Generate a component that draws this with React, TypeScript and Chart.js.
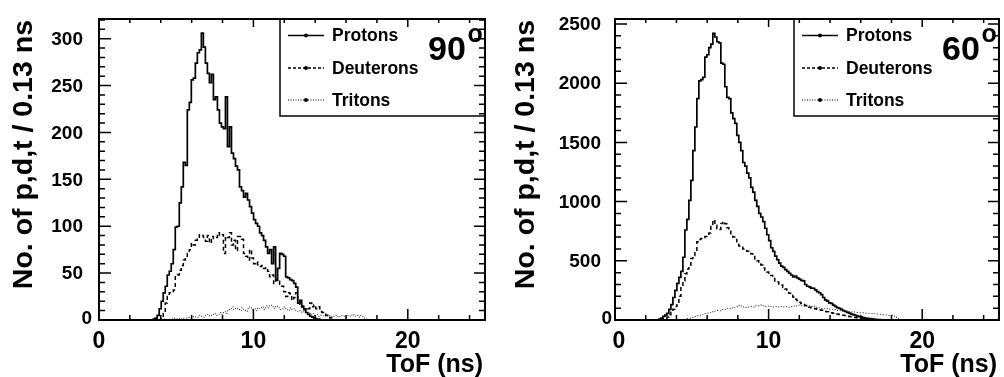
import React, { useEffect, useRef } from "react";
import { Chart, registerables } from "chart.js";

Chart.register(...registerables);

// ---------- data ----------
const BIN_WIDTH = 0.13; // ns per bin
const X_MIN = 0;
const X_MAX = 25;
const X_LABELS = [0, 10, 20];
const LEGEND_LABELS = ["Protons", "Deuterons", "Tritons"];
const ANGLES = ["90", "60"];

const Y_LABELS_90 = [0, 50, 100, 150, 200, 250, 300];
const Y_LABELS_60 = [0, 500, 1000, 1500, 2000, 2500];
const Y_MAX_90 = 321;
const Y_MAX_60 = 2542;

// 90 degrees: counts per 0.13 ns bin, starting at the given bin index
const PROTONS_90_START = 27;
const PROTONS_90 = [
  1, 2, 5, 12, 20, 29, 36, 48, 52, 60, 75, 99, 100, 125, 142, 168, 165, 224, 232, 256,
  258, 274, 285, 288, 306, 291, 274, 263, 253, 262, 235, 238, 224, 210, 206, 204, 238, 185, 206, 178,
  172, 164, 160, 142, 138, 131, 135, 128, 121, 114, 107, 103, 100, 93, 90, 85, 78, 71, 75, 60,
  78, 43, 55, 71, 70, 68, 46, 45, 43, 42, 39, 35, 18, 21, 14, 12, 8, 6, 4, 3,
  2, 1, 1,
];
const DEUTERONS_90_START = 31;
const DEUTERONS_90 = [
  3, 7, 18, 25, 29, 30, 32, 46, 48, 53, 58, 64, 68, 71, 75, 82, 80, 85, 86, 91,
  90, 88, 84, 90, 82, 89, 87, 88, 93, 90, 91, 71, 89, 88, 93, 80, 85, 74, 89, 89,
  86, 71, 68, 64, 75, 66, 60, 62, 59, 57, 58, 55, 56, 52, 46, 48, 39, 42, 43, 38,
  36, 30, 25, 29, 28, 21, 24, 29, 20, 14, 15, 11, 13, 12, 18, 14, 16, 12, 14, 9,
  8, 6, 5, 3, 2, 1,
];
const TRITONS_90_START = 30;
const TRITONS_90 = [
  1, 0, 1, 1, 0, 1, 1, 2, 1, 1, 2, 1, 2, 2, 3, 2, 3, 4, 3, 3,
  5, 4, 3, 5, 6, 4, 5, 7, 5, 6, 8, 6, 9, 7, 10, 12, 14, 11, 13, 12,
  10, 13, 11, 9, 12, 14, 11, 12, 10, 13, 12, 14, 11, 15, 13, 16, 14, 12, 15, 13,
  11, 12, 14, 12, 10, 13, 11, 12, 10, 9, 10, 8, 9, 7, 8, 6, 7, 5, 6, 4,
  5, 5, 4, 3, 5, 4, 3, 4, 5, 3, 4, 5, 4, 3, 5, 4, 6, 4, 5, 3,
  5, 4, 2, 1,
];

// 60 degrees
const PROTONS_60_START = 22;
const PROTONS_60 = [
  8, 15, 30, 42, 56, 90, 130, 190, 250, 310, 360, 410, 530, 760, 850, 1010, 1180, 1430, 1630, 1870,
  2020, 2030, 2050, 2220, 2240, 2300, 2330, 2420, 2390, 2350, 2340, 2170, 2160, 1970, 1880, 1870, 1750, 1700, 1660, 1560,
  1500, 1430, 1330, 1300, 1240, 1200, 1120, 1080, 1010, 960, 900, 870, 830, 775, 720, 670, 610, 580, 540, 510,
  480, 455, 445, 425, 410, 395, 380, 365, 370, 355, 345, 335, 330, 300, 285, 280, 270, 268, 255, 240,
  230, 215, 190, 170, 160, 145, 140, 125, 115, 105, 98, 90, 80, 72, 65, 58, 50, 45, 40, 33,
  28, 25, 20, 16, 13, 11, 9, 7, 5, 4, 3, 2, 1,
];
const DEUTERONS_60_START = 24;
const DEUTERONS_60 = [
  8, 14, 25, 45, 65, 90, 113, 150, 200, 280, 330, 390, 430, 455, 520, 545, 590, 660, 680, 688,
  695, 705, 715, 735, 790, 845, 800, 770, 765, 815, 830, 812, 780, 755, 720, 700, 680, 660, 625, 615,
  600, 595, 580, 575, 560, 545, 515, 500, 475, 465, 440, 420, 405, 390, 375, 350, 330, 320, 305, 295,
  275, 262, 245, 225, 210, 195, 175, 165, 150, 140, 130, 122, 115, 108, 104, 100, 95, 90, 86, 82,
  78, 72, 70, 65, 62, 58, 55, 50, 46, 43, 40, 37, 33, 30, 28, 25, 22, 19, 16, 14,
  12, 10, 8, 6, 5, 4, 3, 2, 1,
];
const TRITONS_60_START = 33;
const TRITONS_60 = [
  2, 5, 8, 12, 16, 20, 26, 30, 35, 40, 45, 48, 55, 58, 62, 70, 68, 75, 80, 78,
  86, 90, 88, 98, 95, 102, 100, 108, 112, 125, 118, 110, 105, 108, 112, 115, 110, 120, 118, 125,
  128, 120, 115, 118, 112, 115, 110, 113, 108, 112, 115, 110, 114, 112, 108, 113, 118, 115, 122, 126,
  120, 117, 119, 115, 120, 114, 118, 110, 106, 102, 98, 100, 96, 99, 92, 90, 86, 88, 82, 80,
  78, 76, 74, 72, 70, 68, 70, 66, 64, 62, 60, 61, 58, 57, 56, 55, 56, 52, 50, 48,
  46, 44, 43, 42, 40, 41, 38, 30, 15,
];

// ---------- helpers ----------
type Pt = { x: number; y: number };
function histPoints(start: number, counts: number[]): Pt[] {
  const pts: Pt[] = [{ x: (start - 1) * BIN_WIDTH, y: 0 }];
  counts.forEach((c, i) => pts.push({ x: (start + i) * BIN_WIDTH, y: c }));
  pts.push({ x: (start + counts.length) * BIN_WIDTH, y: 0 });
  return pts;
}

const FONT = '"Liberation Sans", Arial, Helvetica, sans-serif';

type PanelCfg = {
  angle: string;
  yLabels: number[];
  yMax: number;
  yMajor: number;
  padLeft: number;
  padRight: number;
  yLabelGap: number;
  zeroYLabelDx: number;
  zeroXLabelDx: number;
  series: { start: number; counts: number[] }[];
};

const DASHES = [[], [4, 3], [1.2, 2]];
const WIDTHS = [1.7, 1.5, 1];
const LEGEND_DASHES = [[], [3, 2], [1, 1.5]];

function makePlugin(cfg: PanelCfg) {
  return {
    id: "rootFrame" + cfg.angle,
    afterDatasetsDraw(chart: any) {
      const ctx: CanvasRenderingContext2D = chart.ctx;
      const xs = chart.scales.x;
      const ys = chart.scales.y;
      const { left, right, top, bottom } = chart.chartArea;
      ctx.save();
      ctx.strokeStyle = "#000";
      ctx.fillStyle = "#000";
      ctx.setLineDash([]);

      // legend box
      const bx = right - 205;
      ctx.fillStyle = "#fff";
      ctx.fillRect(bx, top, right - bx, 97);
      ctx.fillStyle = "#000";
      ctx.lineWidth = 1.5;
      ctx.strokeRect(bx, top, right - bx, 97);
      const rowY = [top + 16.5, top + 49, top + 81];
      ctx.font = `bold 17.5px ${FONT}`;
      ctx.textAlign = "left";
      ctx.textBaseline = "middle";
      LEGEND_LABELS.forEach((lab, i) => {
        const y = rowY[i];
        ctx.lineWidth = i === 2 ? 1 : 1.4;
        ctx.setLineDash(LEGEND_DASHES[i]);
        ctx.beginPath();
        ctx.moveTo(right - 197, y);
        ctx.lineTo(right - 161, y);
        ctx.stroke();
        ctx.setLineDash([]);
        ctx.beginPath();
        ctx.arc(right - 179, y, 2, 0, Math.PI * 2);
        ctx.fill();
        ctx.fillText(lab, right - 153, y + 1);
      });

      // angle label
      ctx.textBaseline = "alphabetic";
      ctx.font = `bold 34px ${FONT}`;
      ctx.fillText(cfg.angle, right - 57, top + 41);
      ctx.font = `bold 25px ${FONT}`;
      ctx.fillText("o", right - 17.5, top + 23);

      // frame
      ctx.lineWidth = 2;
      ctx.strokeRect(left, top, right - left, bottom - top);

      // x ticks
      ctx.lineWidth = 1.5;
      for (let k = 0; k <= 12; k++) {
        const v = k * 2;
        const x = xs.getPixelForValue(v);
        const major = v % 10 === 0;
        const lb = major ? 11 : 5;
        const lt = major ? 8 : 4;
        ctx.beginPath();
        ctx.moveTo(x, bottom);
        ctx.lineTo(x, bottom - lb);
        ctx.moveTo(x, top);
        ctx.lineTo(x, top + lt);
        ctx.stroke();
      }
      // y ticks
      const minor = cfg.yMajor / 5;
      for (let k = 0; k * minor <= cfg.yMax; k++) {
        const v = k * minor;
        const y = ys.getPixelForValue(v);
        const major = k % 5 === 0;
        const len = major ? 12 : 6;
        const lr = major ? 11 : 6;
        ctx.beginPath();
        ctx.moveTo(left, y);
        ctx.lineTo(left + len, y);
        ctx.moveTo(right, y);
        ctx.lineTo(right - lr, y);
        ctx.stroke();
      }

      // tick labels
      ctx.font = `bold 23px ${FONT}`;
      ctx.textAlign = "center";
      ctx.textBaseline = "alphabetic";
      X_LABELS.forEach((v) => {
        const dx = v === 0 ? cfg.zeroXLabelDx : 0;
        ctx.fillText(String(v), xs.getPixelForValue(v) + dx, bottom + 28);
      });
      ctx.font = `bold 19px ${FONT}`;
      ctx.textAlign = "right";
      ctx.textBaseline = "middle";
      cfg.yLabels.forEach((v) => {
        const y = ys.getPixelForValue(v);
        if (v === 0) {
          ctx.fillText("0", left - cfg.yLabelGap + cfg.zeroYLabelDx, y - 1);
        } else {
          ctx.fillText(String(v), left - cfg.yLabelGap, y + 1);
        }
      });

      // axis titles
      ctx.font = `bold 25px ${FONT}`;
      ctx.textAlign = "right";
      ctx.textBaseline = "alphabetic";
      ctx.fillText("ToF (ns)", right - 2, bottom + 52);

      ctx.save();
      ctx.translate(24, top + 1);
      ctx.rotate(-Math.PI / 2);
      ctx.font = `bold 28.5px ${FONT}`;
      ctx.textAlign = "right";
      ctx.textBaseline = "middle";
      ctx.fillText("No. of p,d,t / 0.13 ns", 0, 0);
      ctx.restore();

      ctx.restore();
    },
  };
}

function Panel({ cfg, offset }: { cfg: PanelCfg; offset: number }) {
  const ref = useRef<HTMLCanvasElement | null>(null);
  useEffect(() => {
    if (!ref.current) return;
    const chart = new Chart(ref.current, {
      type: "line",
      data: {
        datasets: cfg.series.map((s, i) => ({
          label: LEGEND_LABELS[i],
          data: histPoints(s.start, s.counts),
          stepped: "before" as const,
          borderColor: i === 2 ? "#333" : "#000",
          borderWidth: WIDTHS[i],
          borderDash: DASHES[i],
          pointRadius: 0,
          fill: false,
        })),
      },
      options: {
        animation: false,
        responsive: false,
        maintainAspectRatio: false,
        events: [],
        layout: { padding: { left: cfg.padLeft, right: cfg.padRight, top: 19, bottom: 57 } },
        scales: {
          x: { type: "linear", min: X_MIN, max: X_MAX, display: false },
          y: { type: "linear", min: 0, max: cfg.yMax, display: false },
        },
        plugins: { legend: { display: false }, tooltip: { enabled: false } },
      },
      plugins: [makePlugin(cfg)],
    } as any);
    return () => chart.destroy();
  }, [cfg]);
  return (
    <canvas
      ref={ref}
      width={502}
      height={377}
      style={{ position: "absolute", left: offset, top: 0, width: 502, height: 377 }}
    />
  );
}

const CFG_90: PanelCfg = {
  angle: ANGLES[0],
  yLabels: Y_LABELS_90,
  yMax: Y_MAX_90,
  yMajor: 50,
  padLeft: 99,
  padRight: 17,
  yLabelGap: 16,
  zeroYLabelDx: 9,
  zeroXLabelDx: 0,
  series: [
    { start: PROTONS_90_START, counts: PROTONS_90 },
    { start: DEUTERONS_90_START, counts: DEUTERONS_90 },
    { start: TRITONS_90_START, counts: TRITONS_90 },
  ],
};

const CFG_60: PanelCfg = {
  angle: ANGLES[1],
  yLabels: Y_LABELS_60,
  yMax: Y_MAX_60,
  yMajor: 500,
  padLeft: 113,
  padRight: 5,
  yLabelGap: 14,
  zeroYLabelDx: 11,
  zeroXLabelDx: 4,
  series: [
    { start: PROTONS_60_START, counts: PROTONS_60 },
    { start: DEUTERONS_60_START, counts: DEUTERONS_60 },
    { start: TRITONS_60_START, counts: TRITONS_60 },
  ],
};

export default function App() {
  return (
    <div style={{ position: "absolute", left: 0, top: 0, width: 1004, height: 377, background: "#fff" }}>
      <Panel cfg={CFG_90} offset={0} />
      <Panel cfg={CFG_60} offset={502} />
    </div>
  );
}
